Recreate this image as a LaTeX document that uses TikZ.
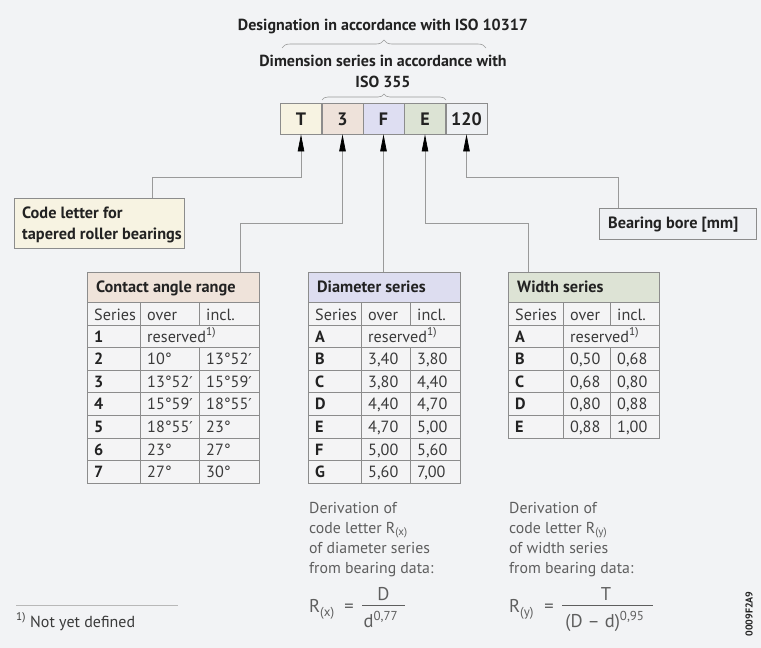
\documentclass[tikz,border=0pt]{standalone}
\usepackage{fontspec}
\setmainfont{PT Sans}
\newfontfamily\primefont{DejaVu Sans}
\newcommand\pr{{\primefont\fontsize{15}{16}\selectfont ′}}
\newcommand\fsub[1]{\raisebox{-4pt}{\fontsize{13}{14}\selectfont #1}}
\usetikzlibrary{arrows.meta,decorations.pathreplacing}
\definecolor{bg}{HTML}{F2F3F5}
\definecolor{linegray}{HTML}{9A9A9A}
\definecolor{gridgray}{HTML}{8C8C8C}
\definecolor{txtdark}{HTML}{222222}
\definecolor{txtmid}{HTML}{3A3A3A}
\definecolor{txtgray}{HTML}{5E5E5E}
\definecolor{cT}{HTML}{F7F3E2}
\definecolor{c3}{HTML}{EEE2DA}
\definecolor{cF}{HTML}{DEDEF2}
\definecolor{cE}{HTML}{DCE3D4}
\definecolor{c120}{HTML}{EEF0F3}
\definecolor{hA}{HTML}{EFE3DA}
\definecolor{hB}{HTML}{DDDDF0}
\definecolor{hC}{HTML}{DDE3D5}
\definecolor{cellbg}{HTML}{F4F4F5}
\newcommand\tabrh{22.6}
\newcommand\tabrow[5]{%
  \draw[grid,fill=cellbg] (\tcL,#2) rectangle (\tcR,#2+\tabrh);
  \draw[grid] (\tcA,#2) -- (\tcA,#2+\tabrh) (\tcB,#2) -- (\tcB,#2+\tabrh);
  \node[celltxt,font=\cellfont\bfseries,text=txtdark] (#1s) at (\tcL+7,#2+17) {#3};
  \node[celltxt] (#1o) at (\tcA+7,#2+17) {#4};
  \node[celltxt] (#1i) at (\tcB+7,#2+17) {#5};
}
\newcommand\tabrowres[3]{%
  \draw[grid,fill=cellbg] (\tcL,#2) rectangle (\tcR,#2+\tabrh);
  \draw[grid] (\tcA,#2) -- (\tcA,#2+\tabrh);
  \node[celltxt,font=\cellfont\bfseries,text=txtdark] (#1s) at (\tcL+7,#2+17) {#3};
  \node[celltxt] (#1o) at (\tcA+7,#2+17) {reserved\textsuperscript{1)}};
}
\newcommand\tabhead[2]{%
  \draw[grid,fill=cellbg] (\tcL,302) rectangle (\tcR,325);
  \draw[grid] (\tcA,302) -- (\tcA,325) (\tcB,302) -- (\tcB,325);
  \node[celltxt] (#1hs) at (\tcL+7,320) {Series};
  \node[celltxt] (#1ho) at (\tcA+7,320) {over};
  \node[celltxt] (#1hi) at (\tcB+7,320) {incl.};
}
\newcommand\cellfont{\fontsize{16.2}{18}\selectfont}
\begin{document}
\begin{tikzpicture}[x=1pt,y=-1pt,
  conn/.style={draw=linegray,line width=0.7pt},
  tipped/.style={-{Triangle[length=17pt,width=6.5pt,color=black]}},
  grid/.style={draw=gridgray,line width=0.8pt},
  codebox/.style={draw=gridgray,line width=0.8pt,minimum width=41pt,minimum height=31pt,inner sep=0pt},
  codetxt/.style={anchor=base,inner sep=0pt,text=txtdark,font=\fontsize{18}{20}\selectfont\bfseries},
  celltxt/.style={anchor=base west,inner sep=0pt,text=txtmid,font=\cellfont},
  hdrtxt/.style={anchor=base west,inner sep=0pt,text=txtdark,font=\fontsize{16.3}{18}\selectfont\bfseries},
  titletxt/.style={anchor=base,inner sep=0pt,text=txtdark,font=\fontsize{16}{18}\selectfont\bfseries},
  derivtxt/.style={anchor=base west,inner sep=0pt,text=txtgray,font=\fontsize{15.8}{18}\selectfont},
  ftxt/.style={inner sep=0pt,text=txtgray,font=\fontsize{18.5}{20}\selectfont},
  bracestyle/.style={draw=linegray,line width=0.6pt,decorate}
]
\fill[bg] (0,0) rectangle (761,648);
\useasboundingbox (0,0) rectangle (761,648);

% titles and braces
\node[titletxt] (t1) at (383,30) {Designation in accordance with ISO 10317};
\draw[bracestyle,decoration={brace,amplitude=8pt}] (282,48) -- (486,48);
\node[titletxt] (t2) at (383,66) {Dimension series in accordance with};
\node[titletxt] (t3) at (383,87) {ISO 355};
\draw[bracestyle,decoration={brace,amplitude=6pt}] (322,100) -- (446,100);

% code boxes
\node[codebox,fill=cT] (bT) at (301,118.5) {};
\node[codebox,fill=c3] (b3) at (342.5,118.5) {};
\node[codebox,fill=cF] (bF) at (383.5,118.5) {};
\node[codebox,fill=cE] (bE) at (425,118.5) {};
\node[codebox,fill=c120] (b120) at (466.5,118.5) {};
\node[codetxt] (lT) at (301,125) {T};
\node[codetxt] (l3) at (342.5,125) {3};
\node[codetxt] (lF) at (383.5,125) {F};
\node[codetxt] (lE) at (425,125) {E};
\node[codetxt] (l120) at (466.5,125) {120};

% label boxes
\node[draw=gridgray,line width=0.8pt,fill=cT,minimum width=170pt,minimum height=50pt,inner sep=0pt] (code) at (99,223) {};
\node[hdrtxt] (codea) at (22,218) {Code letter for};
\node[hdrtxt] (codeb) at (22,239) {tapered roller bearings};
\node[draw=gridgray,line width=0.8pt,fill=c120,minimum width=157pt,minimum height=31pt,inner sep=0pt] (bore) at (677.5,223.5) {};
\node[hdrtxt] (borel) at (608,228) {Bearing bore [mm]};

% table A
\def\tcL{87}\def\tcA{140}\def\tcB{199}\def\tcR{259}
\node[draw=gridgray,line width=0.8pt,fill=hA,minimum width=172pt,minimum height=30pt,inner sep=0pt] (tabA) at (173,287) {};
\node[hdrtxt] (tabAt) at (96,292) {Contact angle range};
\tabhead{A}{}
\tabrowres{A1}{325}{1}
\tabrow{A2}{347.6}{2}{10°}{13°52\pr}
\tabrow{A3}{370.2}{3}{13°52\pr}{15°59\pr}
\tabrow{A4}{392.8}{4}{15°59\pr}{18°55\pr}
\tabrow{A5}{415.4}{5}{18°55\pr}{23°}
\tabrow{A6}{438}{6}{23°}{27°}
\tabrow{A7}{460.6}{7}{27°}{30°}

% table B
\def\tcL{308}\def\tcA{361}\def\tcB{410}\def\tcR{460}
\node[draw=gridgray,line width=0.8pt,fill=hB,minimum width=152pt,minimum height=30pt,inner sep=0pt] (tabB) at (384,287) {};
\node[hdrtxt] (tabBt) at (317,292) {Diameter series};
\tabhead{B}{}
\tabrowres{B1}{325}{A}
\tabrow{B2}{347.6}{B}{3,40}{3,80}
\tabrow{B3}{370.2}{C}{3,80}{4,40}
\tabrow{B4}{392.8}{D}{4,40}{4,70}
\tabrow{B5}{415.4}{E}{4,70}{5,00}
\tabrow{B6}{438}{F}{5,00}{5,60}
\tabrow{B7}{460.6}{G}{5,60}{7,00}

% table C
\def\tcL{508}\def\tcA{563}\def\tcB{610}\def\tcR{659}
\node[draw=gridgray,line width=0.8pt,fill=hC,minimum width=151pt,minimum height=30pt,inner sep=0pt] (tabC) at (583.5,287) {};
\node[hdrtxt] (tabCt) at (517,292) {Width series};
\tabhead{C}{}
\tabrowres{C1}{325}{A}
\tabrow{C2}{347.6}{B}{0,50}{0,68}
\tabrow{C3}{370.2}{C}{0,68}{0,80}
\tabrow{C4}{392.8}{D}{0,80}{0,88}
\tabrow{C5}{415.4}{E}{0,88}{1,00}

% connectors
\coordinate (k1) at (152,177);
\coordinate (k2) at (240,223);
\coordinate (k3) at (528,223);
\coordinate (k4) at (618,177);
\draw[conn,tipped] (code.north -| k1) -- (k1) -| (bT.south);
\draw[conn,tipped] (tabA.north -| k2) -- (k2) -| (b3.south);
\draw[conn,tipped] (tabB.north -| bF.south) -- (bF.south);
\draw[conn,tipped] (tabC.north -| k3) -- (k3) -| (bE.south);
\draw[conn,tipped] (bore.north -| k4) -- (k4) -| (b120.south);

% derivations
\node[derivtxt] (dx1) at (309,513) {Derivation of};
\node[derivtxt] (dx2) at (309,533) {code letter R\textsubscript{(x)}};
\node[derivtxt] (dx3) at (309,553) {of diameter series};
\node[derivtxt] (dx4) at (309,573) {from bearing data:};
\node[ftxt,anchor=base west] (rx) at (309,612) {R\fsub{(x)}};
\node[ftxt,anchor=base] (eqx) at (349,612) {=};
\node[ftxt,anchor=base] (numx) at (383.5,600) {D};
\node[ftxt,anchor=base] (denx) at (381,627) {d\textsuperscript{0,77}};
\draw[draw=txtgray,line width=0.6pt] (362,605) -- (405,605);

\node[derivtxt] (dy1) at (509,513) {Derivation of};
\node[derivtxt] (dy2) at (509,533) {code letter R\textsubscript{(y)}};
\node[derivtxt] (dy3) at (509,553) {of width series};
\node[derivtxt] (dy4) at (509,573) {from bearing data:};
\node[ftxt,anchor=base west] (ry) at (509,612) {R\fsub{(y)}};
\node[ftxt,anchor=base] (eqy) at (549,612) {=};
\node[ftxt,anchor=base] (numy) at (606,600) {T};
\node[ftxt,anchor=base] (deny) at (605,627) {(D – d)\textsuperscript{0,95}};
\draw[draw=txtgray,line width=0.6pt] (562,605) -- (653,605);

% footnote
\draw[draw=linegray!70,line width=0.6pt] (16,605) -- (178,605);
\node[derivtxt,text=txtmid,font=\fontsize{16}{18}\selectfont] (fn) at (16,627) {\textsuperscript{1)} Not yet defined};

% image code
\node[inner sep=0pt,rotate=90,text=txtdark,font=\fontsize{10}{12}\selectfont\bfseries] (imgcode) at (749,614) {0009F2A9};
\end{tikzpicture}
\end{document}
